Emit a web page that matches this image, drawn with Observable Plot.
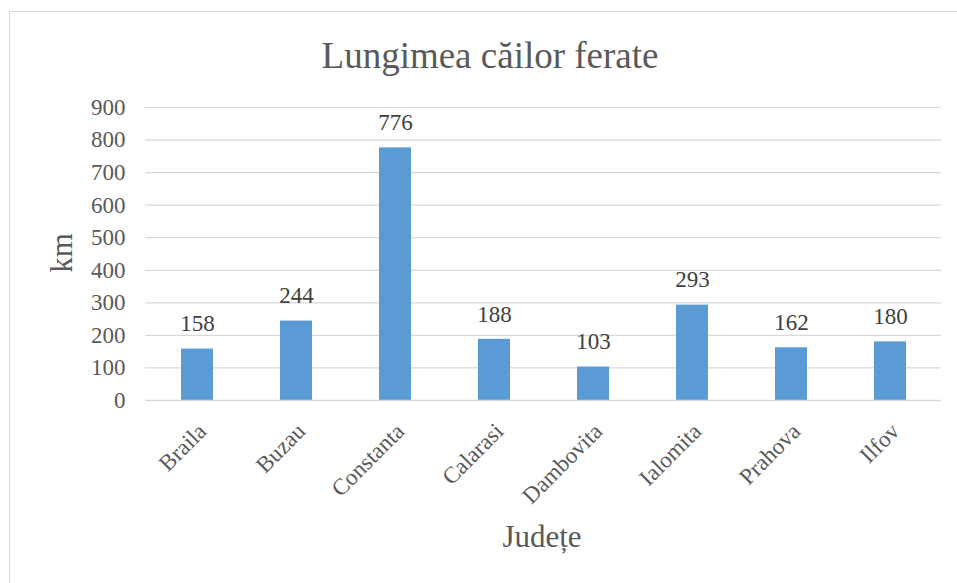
<!DOCTYPE html>
<html>
<head>
<meta charset="utf-8">
<script src="https://cdn.jsdelivr.net/npm/d3@7"></script>
<script src="https://cdn.jsdelivr.net/npm/@observablehq/plot@0.6"></script>
<style>
  html, body { margin: 0; padding: 0; background: #fff; }
  #wrap { position: relative; width: 957px; height: 583px; overflow: hidden; font-family: "Liberation Serif", "Times New Roman", serif; }
  #frame { position: absolute; left: 9px; top: 11px; width: 1000px; height: 700px; border: 1px solid #d9d9d9; box-sizing: border-box; }
  #chart { position: absolute; left: 0; top: 0; }
  .lbl { position: absolute; color: #595959; white-space: nowrap; }
  #title { left: 490px; top: 55px; transform: translate(-50%, -50%); font-size: 37px; }
  #xlabel { left: 542px; top: 537px; transform: translate(-50%, -50%); font-size: 31px; }
  #ylabel { left: 62px; top: 253px; transform: translate(-50%, -50%) rotate(-90deg); font-size: 31px; }
</style>
</head>
<body>
<div id="wrap">
  <div id="frame"></div>
  <div id="chart"></div>
  <div class="lbl" id="title">Lungimea căilor ferate</div>
  <div class="lbl" id="ylabel">km</div>
  <div class="lbl" id="xlabel">Județe</div>
</div>
<script>
const counties = ["Braila", "Buzau", "Constanta", "Calarasi", "Dambovita", "Ialomita", "Prahova", "Ilfov"];
const lengths = [158, 244, 776, 188, 103, 293, 162, 180];
const yTicks = [0, 100, 200, 300, 400, 500, 600, 700, 800, 900];

const data = counties.map((c, i) => ({county: c, km: lengths[i]}));
const serif = "Liberation Serif";

const chart = Plot.plot({
  width: 957,
  height: 583,
  marginLeft: 145,
  marginRight: 16,
  marginTop: 107,
  marginBottom: 183,
  style: {background: "transparent", overflow: "visible", fontFamily: serif},
  x: {domain: counties, paddingInner: 0.68, paddingOuter: 0.34, axis: null},
  y: {domain: [0, 900], axis: null},
  marks: [
    Plot.gridY(yTicks, {stroke: "#d9d9d9", strokeOpacity: 1, strokeWidth: 1.2}),
    Plot.axisY(yTicks, {tickSize: 0, tickPadding: 20, fontSize: 23, fontFamily: serif, color: "#595959", tickFormat: d => String(d), label: null}),
    Plot.barY(data, {x: "county", y: "km", fill: "#5b9bd5"}),
    Plot.ruleY([0], {stroke: "#d9d9d9", strokeWidth: 1.5}),
    Plot.text(data, {x: "county", y: "km", text: d => String(d.km), dy: -25, fontSize: 23, fontFamily: serif, fill: "#404040", lineAnchor: "middle"}),
    Plot.text(data, {x: "county", y: () => 0, text: "county", rotate: -45, textAnchor: "end", lineAnchor: "middle", dx: 5, dy: 27, fontSize: 23, fontFamily: serif, fill: "#595959"})
  ]
});
document.getElementById("chart").appendChild(chart);
</script>
</body>
</html>
